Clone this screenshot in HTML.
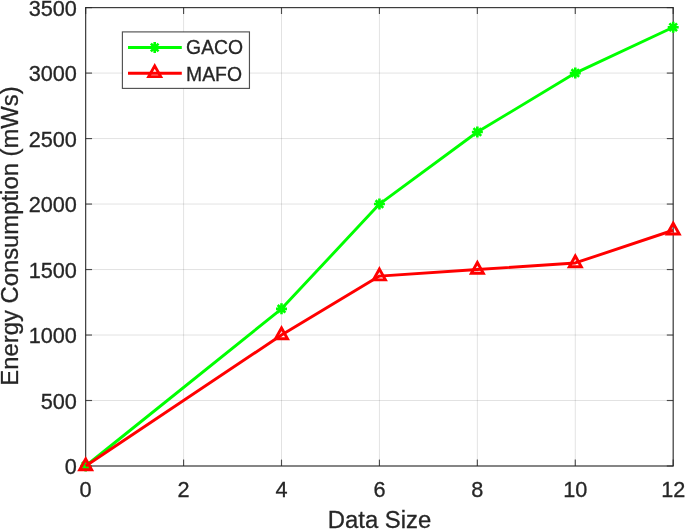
<!DOCTYPE html>
<html lang="en"><head><meta charset="utf-8"><title>Energy Consumption vs Data Size</title>
<style>html,body{margin:0;padding:0;background:#fff;overflow:hidden}svg{display:block}text{font-family:"Liberation Sans",Arial,Helvetica,sans-serif;fill:#262626;stroke:#262626;stroke-width:0.3px}</style></head><body>
<svg width="685" height="530" viewBox="0 0 685 530">
<rect x="0" y="0" width="685" height="530" fill="#ffffff"/>
<g stroke="#000000" stroke-opacity="0.115" stroke-width="1" fill="none"><line x1="85.65" y1="7.60" x2="85.65" y2="466.00"/><line x1="183.58" y1="7.60" x2="183.58" y2="466.00"/><line x1="281.50" y1="7.60" x2="281.50" y2="466.00"/><line x1="379.43" y1="7.60" x2="379.43" y2="466.00"/><line x1="477.35" y1="7.60" x2="477.35" y2="466.00"/><line x1="575.28" y1="7.60" x2="575.28" y2="466.00"/><line x1="673.20" y1="7.60" x2="673.20" y2="466.00"/><line x1="85.65" y1="466.00" x2="673.20" y2="466.00"/><line x1="85.65" y1="400.51" x2="673.20" y2="400.51"/><line x1="85.65" y1="335.03" x2="673.20" y2="335.03"/><line x1="85.65" y1="269.54" x2="673.20" y2="269.54"/><line x1="85.65" y1="204.06" x2="673.20" y2="204.06"/><line x1="85.65" y1="138.57" x2="673.20" y2="138.57"/><line x1="85.65" y1="73.09" x2="673.20" y2="73.09"/><line x1="85.65" y1="7.60" x2="673.20" y2="7.60"/></g>
<rect x="85.65" y="7.60" width="587.55" height="458.40" fill="none" stroke="#262626" stroke-opacity="0.88" stroke-width="1.2"/>
<g stroke="#262626" stroke-opacity="0.8" stroke-width="1.15" fill="none"><line x1="85.65" y1="466.00" x2="85.65" y2="459.60"/><line x1="85.65" y1="7.60" x2="85.65" y2="14.00"/><line x1="183.58" y1="466.00" x2="183.58" y2="459.60"/><line x1="183.58" y1="7.60" x2="183.58" y2="14.00"/><line x1="281.50" y1="466.00" x2="281.50" y2="459.60"/><line x1="281.50" y1="7.60" x2="281.50" y2="14.00"/><line x1="379.43" y1="466.00" x2="379.43" y2="459.60"/><line x1="379.43" y1="7.60" x2="379.43" y2="14.00"/><line x1="477.35" y1="466.00" x2="477.35" y2="459.60"/><line x1="477.35" y1="7.60" x2="477.35" y2="14.00"/><line x1="575.28" y1="466.00" x2="575.28" y2="459.60"/><line x1="575.28" y1="7.60" x2="575.28" y2="14.00"/><line x1="673.20" y1="466.00" x2="673.20" y2="459.60"/><line x1="673.20" y1="7.60" x2="673.20" y2="14.00"/><line x1="85.65" y1="466.00" x2="92.05" y2="466.00"/><line x1="673.20" y1="466.00" x2="666.80" y2="466.00"/><line x1="85.65" y1="400.51" x2="92.05" y2="400.51"/><line x1="673.20" y1="400.51" x2="666.80" y2="400.51"/><line x1="85.65" y1="335.03" x2="92.05" y2="335.03"/><line x1="673.20" y1="335.03" x2="666.80" y2="335.03"/><line x1="85.65" y1="269.54" x2="92.05" y2="269.54"/><line x1="673.20" y1="269.54" x2="666.80" y2="269.54"/><line x1="85.65" y1="204.06" x2="92.05" y2="204.06"/><line x1="673.20" y1="204.06" x2="666.80" y2="204.06"/><line x1="85.65" y1="138.57" x2="92.05" y2="138.57"/><line x1="673.20" y1="138.57" x2="666.80" y2="138.57"/><line x1="85.65" y1="73.09" x2="92.05" y2="73.09"/><line x1="673.20" y1="73.09" x2="666.80" y2="73.09"/><line x1="85.65" y1="7.60" x2="92.05" y2="7.60"/><line x1="673.20" y1="7.60" x2="666.80" y2="7.60"/></g>
<g font-size="21.7"><text x="85.65" y="496.60" text-anchor="middle">0</text><text x="183.58" y="496.60" text-anchor="middle">2</text><text x="281.50" y="496.60" text-anchor="middle">4</text><text x="379.43" y="496.60" text-anchor="middle">6</text><text x="477.35" y="496.60" text-anchor="middle">8</text><text x="575.28" y="496.60" text-anchor="middle">10</text><text x="673.20" y="496.60" text-anchor="middle">12</text><text x="76.90" y="474.20" text-anchor="end">0</text><text x="76.90" y="408.71" text-anchor="end">500</text><text x="76.90" y="343.23" text-anchor="end">1000</text><text x="76.90" y="277.74" text-anchor="end">1500</text><text x="76.90" y="212.26" text-anchor="end">2000</text><text x="76.90" y="146.77" text-anchor="end">2500</text><text x="76.90" y="81.29" text-anchor="end">3000</text><text x="76.90" y="15.80" text-anchor="end">3500</text></g>
<text x="379.5" y="527.8" text-anchor="middle" font-size="23.85">Data Size</text>
<text transform="translate(18.35,236.0) rotate(-90)" text-anchor="middle" font-size="23.85">Energy Consumption (mWs)</text>
<g fill="none" stroke="#00ff00" stroke-width="2.9" stroke-linejoin="round">
<polyline points="85.65,466.00 281.50,308.83 379.43,204.06 477.35,132.02 575.28,73.09 673.20,27.25"/>
<path stroke-width="2.6" d="M80.15 466.00H91.15M85.65 460.50V471.50M81.83 462.18L89.47 469.82M81.83 469.82L89.47 462.18M276.00 308.83H287.00M281.50 303.33V314.33M277.68 305.02L285.32 312.65M277.68 312.65L285.32 305.02M373.93 204.06H384.93M379.43 198.56V209.56M375.61 200.24L383.24 207.88M375.61 207.88L383.24 200.24M471.85 132.02H482.85M477.35 126.52V137.52M473.53 128.20L481.17 135.84M473.53 135.84L481.17 128.20M569.78 73.09H580.78M575.28 67.59V78.59M571.46 69.27L579.09 76.90M571.46 76.90L579.09 69.27M667.70 27.25H678.70M673.20 21.75V32.75M669.38 23.43L677.02 31.06M669.38 31.06L677.02 23.43"/>
</g>
<g fill="none" stroke="#ff0000" stroke-width="2.9" stroke-linejoin="round">
<polyline points="85.65,466.00 281.50,335.03 379.43,276.09 477.35,269.54 575.28,262.99 673.20,230.25"/>
<path stroke-linejoin="miter" stroke-miterlimit="10" d="M85.65 459.00L91.65 469.75L79.65 469.75ZM281.50 328.03L287.50 338.78L275.50 338.78ZM379.43 269.09L385.43 279.84L373.43 279.84ZM477.35 262.54L483.35 273.29L471.35 273.29ZM575.28 255.99L581.28 266.74L569.28 266.74ZM673.20 223.25L679.20 234.00L667.20 234.00Z"/>
</g>
<rect x="122.40" y="31.90" width="127.05" height="56.50" fill="#ffffff" stroke="#262626" stroke-opacity="0.8" stroke-width="1.15"/>
<g fill="none" stroke="#00ff00" stroke-width="2.9"><line x1="128" y1="47.50" x2="181.8" y2="47.50"/><path stroke-width="2.6" d="M149.20 47.50H160.20M154.70 42.00V53.00M150.88 43.68L158.52 51.32M150.88 51.32L158.52 43.68"/></g>
<g fill="none" stroke="#ff0000" stroke-width="2.9"><line x1="128" y1="73.30" x2="181.8" y2="73.30"/><path stroke-linejoin="miter" stroke-miterlimit="10" d="M154.70 65.90L160.70 76.65L148.70 76.65Z"/></g>
<g font-size="19.35" style="fill:#0d0d0d;stroke:#0d0d0d"><text x="186.1" y="54.10">GACO</text><text x="186.1" y="80.70">MAFO</text></g>
</svg></body></html>
